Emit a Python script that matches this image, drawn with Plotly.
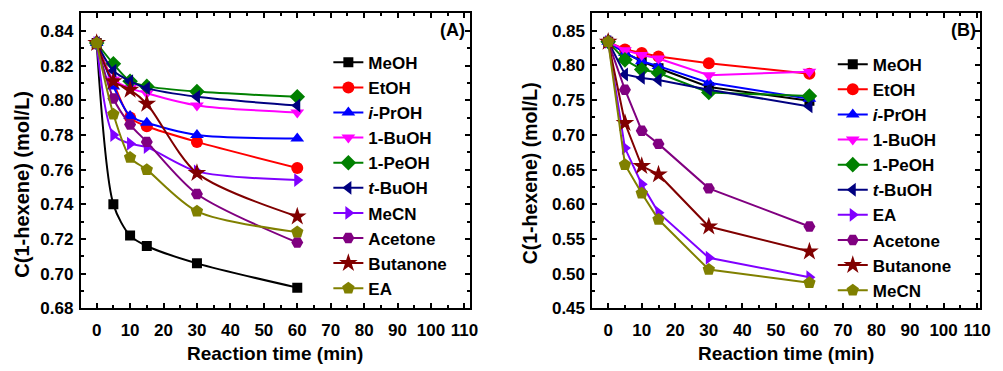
import plotly.graph_objects as go

times = [0, 5, 10, 15, 30, 60]

# Panel A (spline curves)
a_names = ["MeOH", "EtOH", "<i>i</i>-PrOH", "1-BuOH", "1-PeOH", "<i>t</i>-BuOH", "MeCN", "Acetone", "Butanone", "EA"]
a_meoh = [0.833, 0.740, 0.722, 0.716, 0.706, 0.692]
a_etoh = [0.833, 0.810, 0.790, 0.785, 0.776, 0.761]
a_iproh = [0.833, 0.808, 0.791, 0.787, 0.780, 0.778]
a_buoh = [0.833, 0.812, 0.807, 0.804, 0.797, 0.793]
a_peoh = [0.833, 0.821, 0.811, 0.808, 0.805, 0.802]
a_tbuoh = [0.833, 0.817, 0.811, 0.807, 0.802, 0.797]
a_mecn = [0.833, 0.780, 0.775, 0.773, 0.759, 0.754]
a_acetone = [0.833, 0.801, 0.786, 0.776, 0.746, 0.718]
a_butanone = [0.833, 0.811, 0.806, 0.798, 0.758, 0.733]
a_ea = [0.833, 0.792, 0.767, 0.760, 0.736, 0.724]

# Panel B (straight lines)
b_names = ["MeOH", "EtOH", "<i>i</i>-PrOH", "1-BuOH", "1-PeOH", "<i>t</i>-BuOH", "EA", "Acetone", "Butanone", "MeCN"]
b_meoh = [0.834, 0.818, 0.806, 0.796, 0.769, 0.749]
b_etoh = [0.834, 0.823, 0.818, 0.813, 0.803, 0.788]
b_iproh = [0.834, 0.818, 0.806, 0.799, 0.775, 0.752]
b_buoh = [0.834, 0.822, 0.815, 0.810, 0.786, 0.791]
b_peoh = [0.834, 0.808, 0.794, 0.789, 0.761, 0.756]
b_tbuoh = [0.834, 0.787, 0.782, 0.779, 0.765, 0.741]
b_ea = [0.834, 0.681, 0.629, 0.588, 0.523, 0.495]
b_acetone = [0.834, 0.765, 0.706, 0.687, 0.623, 0.568]
b_butanone = [0.834, 0.717, 0.655, 0.643, 0.568, 0.532]
b_mecn = [0.834, 0.657, 0.616, 0.578, 0.506, 0.487]

a_series = [a_meoh, a_etoh, a_iproh, a_buoh, a_peoh, a_tbuoh, a_mecn, a_acetone, a_butanone, a_ea]
b_series = [b_meoh, b_etoh, b_iproh, b_buoh, b_peoh, b_tbuoh, b_ea, b_acetone, b_butanone, b_mecn]

colors = ["#000000", "#FF0000", "#0000FF", "#FF00FF", "#008000", "#000080", "#8000FF", "#800080", "#800000", "#808000"]
symbols = ["square", "circle", "triangle-up", "triangle-down", "diamond", "triangle-left", "triangle-right", "hexagon2", "star", "pentagon"]
sizes = [10, 12, 12, 12, 12, 12, 12, 12, 14, 13]

FONT = "Arial, Liberation Sans, sans-serif"
fig = go.Figure()

for name, ys, c, s, sz in zip(a_names, a_series, colors, symbols, sizes):
    fig.add_trace(go.Scatter(x=times, y=ys, name=name, mode="lines+markers",
                             line=dict(color=c, width=2, shape="spline", smoothing=0.8),
                             marker=dict(symbol=s, size=sz, color=c, line=dict(width=0)),
                             xaxis="x", yaxis="y", legend="legend"))
for name, ys, c, s, sz in zip(b_names, b_series, colors, symbols, sizes):
    fig.add_trace(go.Scatter(x=times, y=ys, name=name, mode="lines+markers",
                             line=dict(color=c, width=2),
                             marker=dict(symbol=s, size=sz, color=c, line=dict(width=0)),
                             xaxis="x2", yaxis="y2", legend="legend2"))

ydom = [1 - 317 / 371, 1 - 13 / 371]
TICKFONT = dict(family=FONT, size=17, color="black", weight="bold")
axis_common = dict(showline=True, linewidth=2, linecolor="black", mirror="allticks",
                   ticks="inside", ticklen=5, tickwidth=1.5, tickcolor="black",
                   showgrid=False, zeroline=False, tickfont=TICKFONT)
xminor = dict(dtick=5, ticks="inside", ticklen=3, tickcolor="black")

fig.update_layout(
    width=1003, height=371,
    margin=dict(l=0, r=0, t=0, b=0),
    paper_bgcolor="white", plot_bgcolor="white",
    font=dict(family=FONT, color="black"),
    showlegend=True,
    xaxis=dict(domain=[81.7 / 1003, 475 / 1003], range=[-4.74, 111.6], dtick=10, tick0=0,
               minor=xminor, ticklabelstandoff=5, anchor="y", **axis_common),
    yaxis=dict(domain=ydom, range=[0.68, 0.8505], dtick=0.02, tick0=0.68, tickformat=".2f",
               minor=dict(dtick=0.01, ticks="inside", ticklen=3, tickcolor="black"),
               ticklabelstandoff=2, anchor="x", **axis_common),
    xaxis2=dict(domain=[599 / 1003, 991 / 1003], range=[-4.7, 110.9], dtick=10, tick0=0,
                minor=xminor, ticklabelstandoff=5, anchor="y2", **axis_common),
    yaxis2=dict(domain=ydom, range=[0.45, 0.876], dtick=0.05, tick0=0.45, tickformat=".2f",
                minor=dict(dtick=0.025, ticks="inside", ticklen=3, tickcolor="black"),
                ticklabelstandoff=2, anchor="x2", **axis_common),
    legend=dict(x=332 / 1003, y=1 - 46 / 371, xanchor="left", yanchor="top",
                bgcolor="rgba(0,0,0,0)", font=dict(family=FONT, size=17, color="black", weight="bold"),
                tracegroupgap=0, itemwidth=30),
    legend2=dict(x=842 / 1003, y=1 - 48 / 371, xanchor="left", yanchor="top",
                 bgcolor="rgba(0,0,0,0)", font=dict(family=FONT, size=17, color="black", weight="bold"),
                 tracegroupgap=0, itemwidth=30),
)

TITLEFONT = dict(family=FONT, size=19, color="black")
ann = [
    dict(text="<b>(A)</b>", x=472 / 1003, y=1 - 31 / 371),
    dict(text="<b>(B)</b>", x=989 / 1003, y=1 - 31 / 371),
]
for a in ann:
    fig.add_annotation(xref="paper", yref="paper", xanchor="right", yanchor="middle",
                       showarrow=False, font=dict(family=FONT, size=18, color="black"), **a)
for xc in [278, 795]:
    fig.add_annotation(text="<b>Reaction time (min)</b>", xref="paper", yref="paper",
                       x=xc / 1003, y=1 - 363 / 371, xanchor="center", yanchor="middle",
                       showarrow=False, font=TITLEFONT)
for xc, yc, fs in [(22, 189, 20), (536, 178, 19.5)]:
    fig.add_annotation(text="<b>C(1-hexene) (mol/L)</b>", xref="paper", yref="paper",
                       x=xc / 1003, y=1 - yc / 371, xanchor="center", yanchor="middle",
                       textangle=-90, showarrow=False, font=dict(family=FONT, size=fs, color="black"))

fig.write_html("out.html")
